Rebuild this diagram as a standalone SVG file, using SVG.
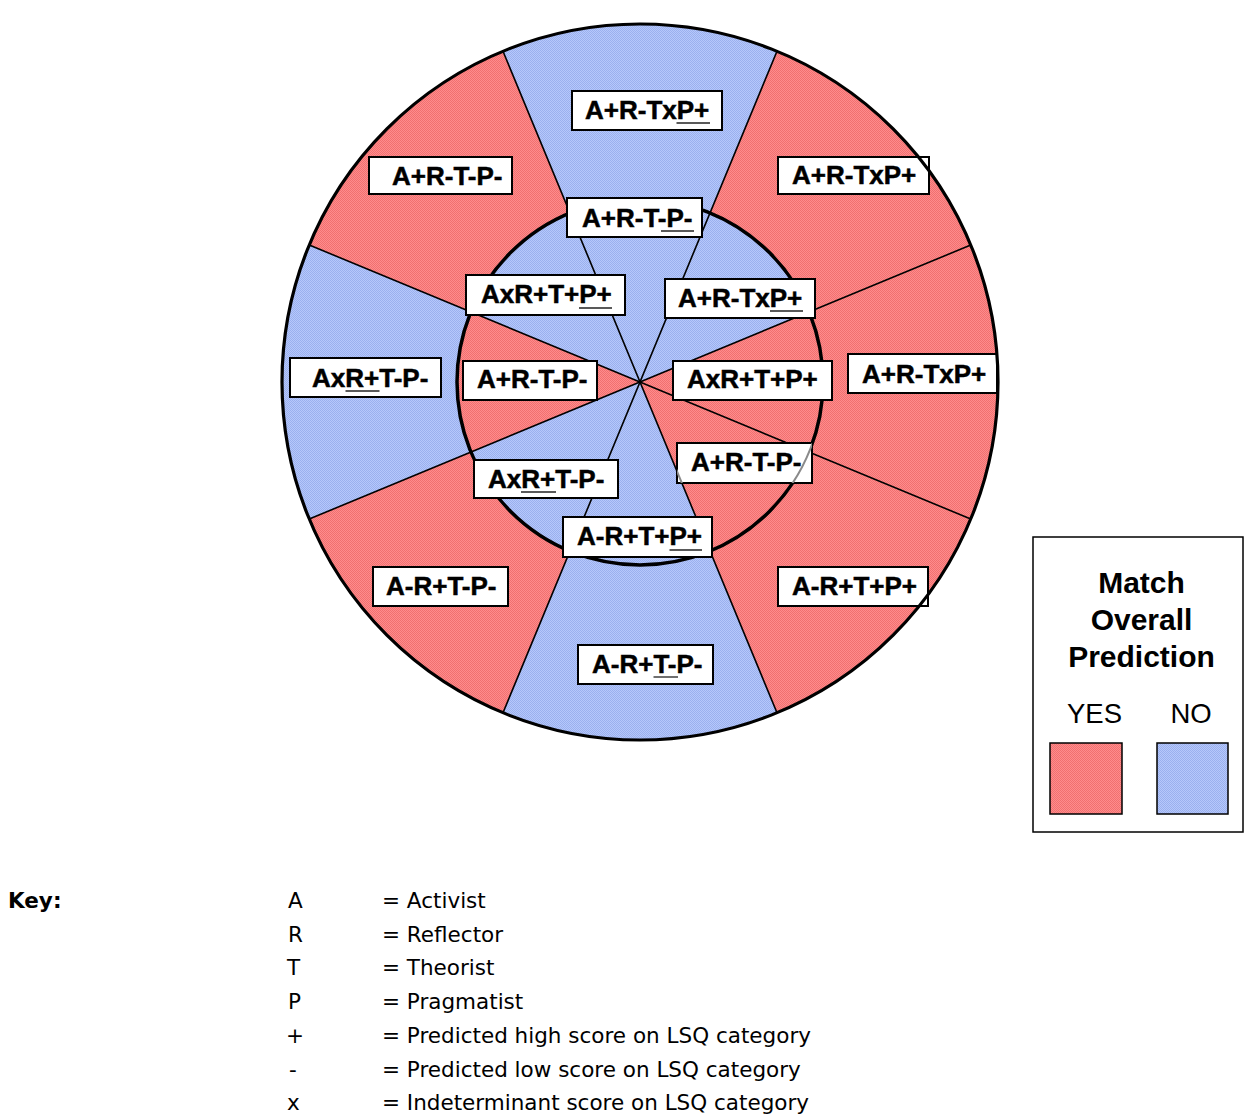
<svg xmlns="http://www.w3.org/2000/svg" width="1253" height="1120" viewBox="0 0 1253 1120">
<style>
.box{fill:#ffffff;stroke:#000000;stroke-width:2}
.lbl{font-family:"Liberation Sans",Arial,sans-serif;font-weight:bold;font-size:26px;fill:#000000;stroke:#000000;stroke-width:0.5}
.ul{stroke:#222222;stroke-width:1.3}
.div{stroke:#000000;stroke-width:1.6;fill:none}
.leg{font-family:"Liberation Sans",Arial,sans-serif;font-size:30px;font-weight:bold;fill:#000000;text-anchor:middle}
.legn{font-family:"Liberation Sans",Arial,sans-serif;font-size:27.5px;fill:#000000;text-anchor:middle}
.key{font-family:"DejaVu Sans",Verdana,sans-serif;font-size:21.5px;fill:#000000}
.ghost{stroke:#8a8a8a;stroke-width:2;fill:none}
</style>
<defs>
<pattern id="red" x="0" y="0" width="2" height="2" patternUnits="userSpaceOnUse">
<rect x="0" y="0" width="2" height="2" fill="#FF8C8C" shape-rendering="crispEdges"/>
<rect x="0" y="0" width="1" height="1" fill="#F07070" shape-rendering="crispEdges"/>
<rect x="1" y="1" width="1" height="1" fill="#F07070" shape-rendering="crispEdges"/>
</pattern>
<pattern id="blue" x="0" y="0" width="2" height="2" patternUnits="userSpaceOnUse">
<rect x="0" y="0" width="2" height="2" fill="#B6C8FB" shape-rendering="crispEdges"/>
<rect x="0" y="0" width="1" height="1" fill="#9AB0EE" shape-rendering="crispEdges"/>
<rect x="1" y="1" width="1" height="1" fill="#9AB0EE" shape-rendering="crispEdges"/>
</pattern>
<clipPath id="clipDR"><rect x="677" y="443" width="135" height="40"/></clipPath>
</defs>
<rect x="0" y="0" width="1253" height="1120" fill="#ffffff"/>

<g id="wheel">
<circle cx="640" cy="382" r="358" fill="url(#red)"/>
<path d="M640,382 L777,712.75 A358,358 0 0 1 503,712.75 Z" fill="url(#blue)"/>
<path d="M640,382 L309.25,519 A358,358 0 0 1 309.25,245 Z" fill="url(#blue)"/>
<path d="M640,382 L503,51.25 A358,358 0 0 1 777,51.25 Z" fill="url(#blue)"/>
<circle cx="640" cy="382" r="183" fill="url(#blue)"/>
<path d="M640,382 L809.07,311.97 A183,183 0 0 1 710.03,551.07 Z" fill="url(#red)"/>
<path d="M640,382 L470.93,452.03 A183,183 0 0 1 470.93,311.97 Z" fill="url(#red)"/>
</g>

<g id="connectors">
<line class="div" x1="970.75" y1="519" x2="309.25" y2="245"/>
<line class="div" x1="777" y1="712.75" x2="503" y2="51.25"/>
<line class="div" x1="503" y1="712.75" x2="777" y2="51.25"/>
<line class="div" x1="309.25" y1="519" x2="970.75" y2="245"/>
<circle cx="640" cy="382" r="183" fill="none" stroke="#000000" stroke-width="3.5"/>
</g>

<g id="inner-up">
<rect class="box" x="567" y="198" width="135" height="39"/>
<text class="lbl" x="582" y="227">A+R-T-P-</text>
<line class="ul" x1="661" y1="231" x2="694" y2="231"/>
</g>
<g id="inner-upleft">
<rect class="box" x="466" y="275" width="159" height="40"/>
<text class="lbl" x="481" y="303">AxR+T+P+</text>
<line class="ul" x1="579" y1="308" x2="612" y2="308"/>
</g>
<g id="inner-upright">
<rect class="box" x="665" y="279" width="150" height="39"/>
<text class="lbl" x="678" y="307">A+R-TxP+</text>
<line class="ul" x1="770" y1="311" x2="803" y2="311"/>
</g>
<g id="inner-left">
<rect class="box" x="463" y="361" width="134" height="39"/>
<text class="lbl" x="477" y="388">A+R-T-P-</text>
</g>
<g id="inner-right">
<rect class="box" x="673" y="361" width="159" height="39"/>
<text class="lbl" x="687" y="388">AxR+T+P+</text>
</g>
<g id="inner-downright">
<rect class="box" x="677" y="443" width="135" height="40"/>
<text class="lbl" x="691" y="471">A+R-T-P-</text>
<g clip-path="url(#clipDR)">
<circle class="ghost" cx="640" cy="382" r="183"/>
<line class="ghost" x1="640" y1="382" x2="710.03" y2="551.07" stroke-width="1.5"/>
</g>
</g>
<g id="inner-downleft">
<rect class="box" x="474" y="460" width="144" height="38"/>
<text class="lbl" x="488" y="488">AxR+T-P-</text>
<line class="ul" x1="521" y1="492" x2="556" y2="492"/>
</g>
<g id="inner-down">
<rect class="box" x="563" y="517" width="149" height="40"/>
<text class="lbl" x="577" y="545">A-R+T+P+</text>
<line class="ul" x1="669.5" y1="550" x2="702" y2="550"/>
</g>

<g id="outer-top">
<rect class="box" x="572" y="91" width="150" height="39"/>
<text class="lbl" x="585" y="119">A+R-TxP+</text>
<line class="ul" x1="676.5" y1="123" x2="710" y2="123"/>
</g>
<g id="outer-upleft">
<rect class="box" x="369" y="157" width="143" height="37"/>
<text class="lbl" x="392" y="185">A+R-T-P-</text>
</g>
<g id="outer-upright">
<rect class="box" x="778" y="157" width="151" height="37"/>
<text class="lbl" x="792" y="184">A+R-TxP+</text>
</g>
<g id="outer-right">
<rect class="box" x="848" y="354" width="149" height="39"/>
<text class="lbl" x="862" y="383">A+R-TxP+</text>
</g>
<g id="outer-downright">
<rect class="box" x="778" y="567" width="150" height="39"/>
<text class="lbl" x="792" y="595">A-R+T+P+</text>
</g>
<g id="outer-down">
<rect class="box" x="578" y="645" width="135" height="39"/>
<text class="lbl" x="592" y="673">A-R+T-P-</text>
<line class="ul" x1="653.5" y1="677" x2="678" y2="677"/>
</g>
<g id="outer-downleft">
<rect class="box" x="373" y="567" width="135" height="39"/>
<text class="lbl" x="386" y="595">A-R+T-P-</text>
</g>
<g id="outer-left">
<rect class="box" x="290" y="358" width="151" height="39"/>
<text class="lbl" x="312" y="387">AxR+T-P-</text>
<line class="ul" x1="345.5" y1="391" x2="379.5" y2="391"/>
</g>

<g id="outer-ring">
<circle cx="640" cy="382" r="358" fill="none" stroke="#000000" stroke-width="3.2"/>
</g>

<g id="legend">
<rect x="1033" y="537" width="210" height="295" fill="#ffffff" stroke="#000000" stroke-width="1.5"/>
<text class="leg" x="1141.5" y="593">Match</text>
<text class="leg" x="1141.5" y="630">Overall</text>
<text class="leg" x="1141.5" y="667">Prediction</text>
<text class="legn" x="1094.5" y="723">YES</text>
<text class="legn" x="1191" y="723">NO</text>
<rect x="1050" y="743" width="72" height="71" fill="url(#red)" stroke="#000000" stroke-width="1.5"/>
<rect x="1157" y="743" width="71" height="71" fill="url(#blue)" stroke="#000000" stroke-width="1.5"/>
</g>

<g id="key">
<text class="key" x="8" y="908" font-weight="bold">Key:</text>
<text class="key" x="288" y="908">A</text>
<text class="key" x="382" y="908">= Activist</text>
<text class="key" x="288" y="941.7">R</text>
<text class="key" x="382" y="941.7">= Reflector</text>
<text class="key" x="287" y="975.4">T</text>
<text class="key" x="382" y="975.4">= Theorist</text>
<text class="key" x="288" y="1009">P</text>
<text class="key" x="382" y="1009">= Pragmatist</text>
<text class="key" x="286" y="1042.8">+</text>
<text class="key" x="382" y="1042.8">= Predicted high score on LSQ category</text>
<text class="key" x="289" y="1076.5">-</text>
<text class="key" x="382" y="1076.5">= Predicted low score on LSQ category</text>
<text class="key" x="287" y="1110.2">x</text>
<text class="key" x="382" y="1110.2">= Indeterminant score on LSQ category</text>
</g>
</svg>
